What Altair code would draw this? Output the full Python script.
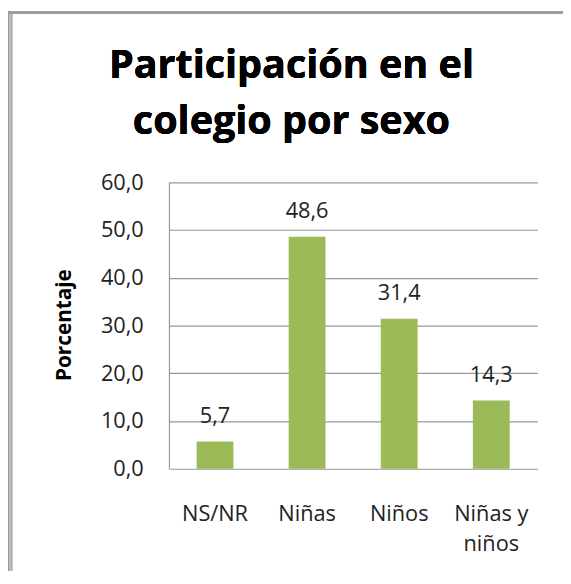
import altair as alt
import pandas as pd

categories = ["NS/NR", "Niñas", "Niños", "Niñas y|niños"]
values = [5.7, 48.6, 31.4, 14.3]
labels = ["5,7", "48,6", "31,4", "14,3"]
title_lines = ["Participación en el", "colegio por sexo"]

df = pd.DataFrame({"cat": categories, "val": values, "lab": labels})

FONT = "Open Sans"
FS = 22
TFS = 40
x = alt.X("cat:N", sort=categories, title=None,
          scale=alt.Scale(paddingInner=0.6, paddingOuter=0.3),
          axis=alt.Axis(labelExpr="split(datum.value, '|')", labelAngle=0,
                        labelFontSize=FS, labelColor="#222", labelFont=FONT,
                        labelPadding=52, labelLineHeight=31, labelBaseline="alphabetic",
                        domain=False, ticks=False, grid=False))
y = alt.Y("val:Q", title="Porcentaje",
          scale=alt.Scale(domain=[0, 60], nice=False),
          axis=alt.Axis(values=[0, 10, 20, 30, 40, 50, 60],
                        labelExpr="replace(format(datum.value, '.1f'), '.', ',')",
                        labelFontSize=FS, labelColor="#222", labelFont=FONT,
                        labelPadding=26, ticks=False,
                        domain=True, domainColor="#999", domainWidth=1.2,
                        grid=True, gridColor="#999", gridWidth=1.2,
                        titleFont=FONT, titleFontSize=21, titleFontWeight="bold",
                        titleColor="#000", titleX=-106, titleY=144,
                        titleAlign="center", titleBaseline="middle", titleAngle=270))

bars = alt.Chart(df).mark_bar(color="#9BBB59").encode(x=x, y=y)
text = alt.Chart(df).mark_text(dy=-19, baseline="alphabetic", fontSize=FS, font=FONT,
                               color="#222").encode(
    x=alt.X("cat:N", sort=categories), y="val:Q", text="lab:N")

t1 = alt.Chart(df).mark_text(text=title_lines[0], font=FONT, fontSize=TFS, fontWeight="bold",
                             color="#000", baseline="alphabetic", align="center").encode(
    x=alt.value(124), y=alt.value(-106))
t2 = alt.Chart(df).mark_text(text=title_lines[1], font=FONT, fontSize=TFS, fontWeight="bold",
                             color="#000", baseline="alphabetic", align="center").encode(
    x=alt.value(124), y=alt.value(-49))

frame_v1 = alt.Chart(df).mark_rule(color="#999", strokeWidth=1.5).encode(
    x=alt.value(-162.5), y=alt.value(-173), y2=alt.value(410))
frame_v2 = alt.Chart(df).mark_rule(color="#aaa", strokeWidth=1.5).encode(
    x=alt.value(-159.5), y=alt.value(-173), y2=alt.value(410))
frame_h = alt.Chart(df).mark_rule(color="#999", strokeWidth=2).encode(
    x=alt.value(-163), x2=alt.value(400), y=alt.value(-172))

chart = alt.layer(frame_v1, frame_v2, frame_h, t1, t2, bars, text).properties(
    width=373, height=290,
    autosize=alt.AutoSizeParams(type="none"),
    padding={"left": 163, "top": 173, "right": 26, "bottom": 100},
).configure_view(stroke=None)

chart.save("out.html", embed_options={"renderer": "svg", "actions": False})
